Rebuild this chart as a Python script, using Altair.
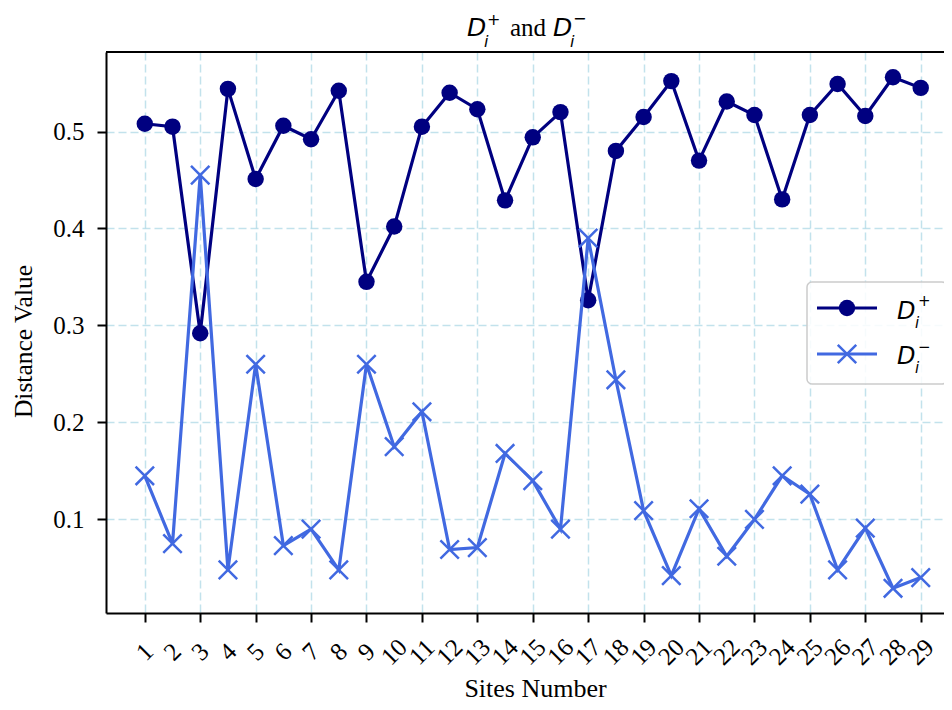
import altair as alt
import pandas as pd

# ---- data ----
sites = list(range(1, 30))
d_plus = [0.508, 0.505, 0.292, 0.544, 0.451, 0.506, 0.492, 0.542, 0.345, 0.402,
          0.505, 0.540, 0.523, 0.429, 0.494, 0.520, 0.326, 0.480, 0.515, 0.552,
          0.470, 0.531, 0.517, 0.430, 0.517, 0.549, 0.516, 0.556, 0.545]
d_minus = [0.145, 0.075, 0.455, 0.048, 0.260, 0.073, 0.090, 0.048, 0.260, 0.175,
           0.211, 0.069, 0.071, 0.168, 0.140, 0.090, 0.390, 0.244, 0.109, 0.042,
           0.111, 0.062, 0.100, 0.145, 0.126, 0.048, 0.091, 0.029, 0.040]
site_labels = [str(s) for s in sites]
y_ticks = [0.1, 0.2, 0.3, 0.4, 0.5]

NAVY = "#000080"
ROYAL = "#4169e1"
SERIF = "Liberation Serif"
MATH = "DejaVu Sans"
XSHAPE = "M-1,-1L1,1M-1,1L1,-1"

df = pd.DataFrame({"site": sites, "plus": d_plus, "minus": d_minus, "label": site_labels})
deco = pd.DataFrame({"k": [0]})

W, H = 838, 561

xscale = alt.Scale(domain=[-0.4, 29.84], nice=False, zero=False)
yscale = alt.Scale(domain=[0.0035, 0.582], nice=False, zero=False)

xaxis = alt.Axis(
    values=sites, title="Sites Number", grid=True, labels=False,
    titleFont=SERIF, titleFontSize=26, titleFontWeight="normal",
    titleX=429, titleY=75, titleBaseline="middle", titleAlign="center",
)
yaxis = alt.Axis(
    values=y_ticks, format=".1f", title="Distance Value", grid=True,
    labelFont=SERIF, labelFontSize=25, labelPadding=13,
    titleFont=SERIF, titleFontSize=25.5, titleFontWeight="normal",
    titleAngle=-90, titleX=-83, titleY=289, titleAlign="center",
    titleBaseline="middle",
)

base = alt.Chart(df)
plus_line = base.mark_line(color=NAVY, strokeWidth=3.2).encode(
    x=alt.X("site:Q", scale=xscale, axis=xaxis),
    y=alt.Y("plus:Q", scale=yscale, axis=yaxis),
)
plus_pts = base.mark_point(shape="circle", filled=True, color=NAVY, size=270,
                           opacity=1).encode(x="site:Q", y="plus:Q")
minus_line = base.mark_line(color=ROYAL, strokeWidth=3.2).encode(x="site:Q", y="minus:Q")
minus_pts = base.mark_point(shape=XSHAPE, filled=False, color=ROYAL, size=340,
                            strokeWidth=2.5, opacity=1).encode(x="site:Q", y="minus:Q")

# rotated x tick labels (45 degrees counter-clockwise, centred under each tick)
x_labels = base.mark_text(font=SERIF, size=25, angle=315, align="center",
                          baseline="middle", color="black").encode(
    x="site:Q", y=alt.value(H + 39), text="label:N")

d = alt.Chart(deco)

top_spine = d.mark_rule(color="black", strokeWidth=2).encode(
    x=alt.value(0), x2=alt.value(W), y=alt.value(0))


def txt(s, x, y, size, font, italic=False, baseline="alphabetic", align="left"):
    return d.mark_text(text=s, font=font, size=size,
                       fontStyle="italic" if italic else "normal",
                       align=align, baseline=baseline, color="black").encode(
        x=alt.value(x), y=alt.value(y))


# title  D_i^+ and D_i^-
title_layers = [
    txt("D", 361, -16, 25, MATH, italic=True),
    txt("i", 378, -5, 16, MATH, italic=True),
    txt("+", 381, -32, 16, MATH, baseline="middle"),
    txt("and", 404, -16, 25, SERIF),
    txt("D", 447, -16, 25, MATH, italic=True),
    txt("i", 464, -5, 16, MATH, italic=True),
    txt("\u2212", 467, -33, 16, MATH, baseline="middle"),
]

# legend
legend_box = d.mark_rect(fill="white", fillOpacity=0.85, stroke="#cccccc",
                         strokeWidth=1.5, cornerRadius=5).encode(
    x=alt.value(701), x2=alt.value(841), y=alt.value(230), y2=alt.value(332))
leg_l1 = d.mark_rule(color=NAVY, strokeWidth=3.2).encode(
    x=alt.value(711), x2=alt.value(771), y=alt.value(256))
leg_p1 = d.mark_point(shape="circle", filled=True, color=NAVY, size=270, opacity=1).encode(
    x=alt.value(741), y=alt.value(256))
leg_l2 = d.mark_rule(color=ROYAL, strokeWidth=3.2).encode(
    x=alt.value(711), x2=alt.value(771), y=alt.value(302))
leg_p2 = d.mark_point(shape=XSHAPE, filled=False, color=ROYAL, size=340,
                      strokeWidth=2.5, opacity=1).encode(x=alt.value(741), y=alt.value(302))
legend_text = [
    txt("D", 791, 267, 24, MATH, italic=True),
    txt("i", 809, 276, 15, MATH, italic=True),
    txt("+", 812, 249, 15, MATH, baseline="middle"),
    txt("D", 791, 312, 24, MATH, italic=True),
    txt("i", 809, 321, 15, MATH, italic=True),
    txt("\u2212", 812, 295, 15, MATH, baseline="middle"),
]

chart = alt.layer(
    plus_line, plus_pts, minus_line, minus_pts, x_labels, top_spine,
    *title_layers, legend_box, leg_l1, leg_p1, leg_l2, leg_p2, *legend_text,
).properties(
    width=W, height=H,
    autosize=alt.AutoSizeParams(type="none"),
    padding={"left": 98, "top": 44, "right": 0, "bottom": 89},
).configure_view(stroke=None).configure_axis(
    domainColor="black", domainWidth=2, tickColor="black", tickWidth=2,
    tickSize=9, labelColor="black", titleColor="black",
    gridColor="#add8e6", gridOpacity=0.75, gridDash=[8, 4], gridWidth=1.5,
)

chart.save("out.html", embed_options={"renderer": "svg", "actions": False})
